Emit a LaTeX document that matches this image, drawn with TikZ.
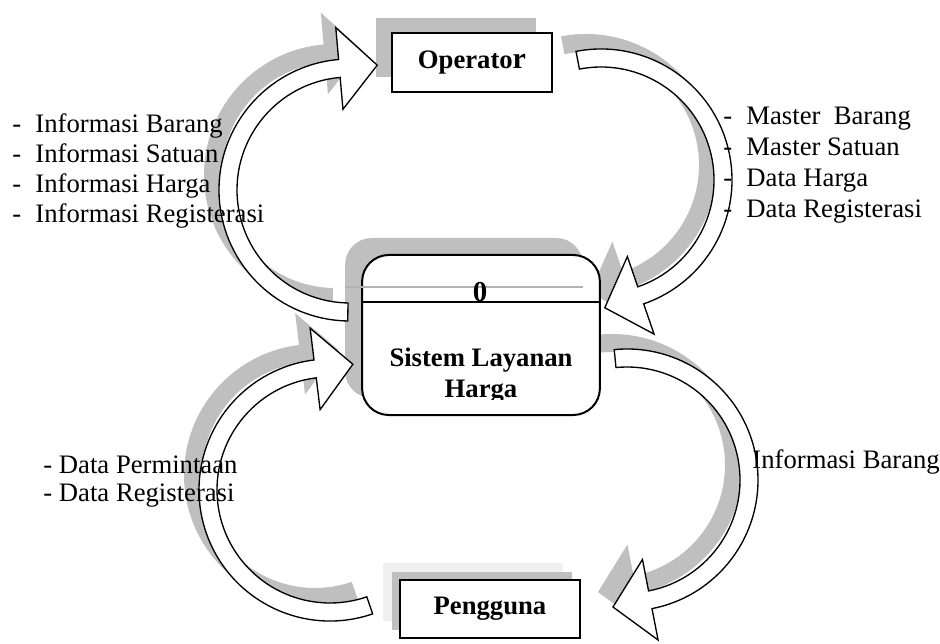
\documentclass[tikz,border=0pt]{standalone}
\usepackage{fontspec}
\setmainfont{Liberation Serif}
\usetikzlibrary{shadows}

% curved block arrow: #1,#2 centre, #3 start angle, #4 end angle, #5 style
\newcommand{\flowarc}[5]{%
    \pgfmathsetmacro{\ro}{\arcr+\arcw}
    \pgfmathsetmacro{\ri}{\arcr-\arcw}
    \draw[#5] ({#1+\ro*cos(#3)},{#2+\ro*sin(#3)})
        arc[start angle=#3, end angle=#4, radius=\ro]
        -- ({#1+(\arcr+\arch)*cos(#4)},{#2+(\arcr+\arch)*sin(#4)})
        -- ({#1+\arcr*cos(#4)+\arcl*sin(#4)},{#2+\arcr*sin(#4)-\arcl*cos(#4)})
        -- ({#1+(\arcr-\arch)*cos(#4)},{#2+(\arcr-\arch)*sin(#4)})
        -- ({#1+\ri*cos(#4)},{#2+\ri*sin(#4)})
        arc[start angle=#4, end angle=#3, radius=\ri]
        -- cycle;
}

\tikzset{
    boldtxt/.style={font=\bfseries\fontsize{12}{14}\selectfont},
    entity/.style={draw, line width=0.9pt, fill=white, inner sep=0pt,
        minimum width=#1, minimum height=26.5pt, boldtxt},
    process/.style={draw, line width=0.9pt, fill=white, rounded corners=12pt,
        minimum width=107pt, minimum height=72pt,
        general shadow={fill=gray!50, shadow xshift=-7.65pt, shadow yshift=7.65pt}},
    arcshadow/.style={fill=gray!50, draw=none, shift={(-15,15)}},
    arcbody/.style={fill=white, draw=black, line width=0.6pt, line join=miter},
    txt/.style={anchor=base west, inner sep=0pt, font=\fontsize{12}{14}\selectfont}
}

\begin{document}
\begin{tikzpicture}[x=0.45pt, y=0.45pt]

    \useasboundingbox (0,0) rectangle (940,643);

    \def\arcr{122}
    \def\arcw{9}
    \def\arch{41}
    \def\arcl{38}

    % shadows of the arrows
    \flowarc{350}{453}{269}{95}{arcshadow}
    \flowarc{601}{463}{101}{-71}{arcshadow}
    \flowarc{330}{153}{289}{97}{arcshadow}
    \flowarc{627}{163}{95.6}{-79}{arcshadow}

    % boxes
    \node[entity=72pt, general shadow={fill=gray!50, shadow xshift=-7.2pt, shadow yshift=6.75pt}]
        (operator) at (472,580.5) {Operato{\fontsize{13.5}{14}\selectfont r}};

    \node[process] (proses) at (481,308) {};
    \draw[gray!60, line width=0.5pt] (345,356) -- (583,356);
    \draw[line width=0.9pt] (362,341) -- (600,341);
    \node[anchor=base, inner sep=0pt, font=\bfseries\fontsize{13}{13}\selectfont] (nomor) at (480,341) {0};
    \node[anchor=base, inner sep=0pt, boldtxt] (nama) at (481,276) {Sistem Layanan};
    \begin{scope}
        \clip (362,244) rectangle (600,300);
        \node[anchor=base, inner sep=0pt, boldtxt] (nama2) at (481,246) {Harga};
    \end{scope}

    \node[entity=81pt,
        general shadow={fill=gray!12, shadow xshift=-7.65pt, shadow yshift=7.65pt},
        general shadow={fill=gray!50, shadow xshift=-3.6pt, shadow yshift=3.6pt}]
        (pengguna) at (490,34) {Pengguna};

    % arrows
    \flowarc{350}{453}{269}{95}{arcbody}
    \flowarc{601}{463}{101}{-71}{arcbody}
    \flowarc{330}{153}{289}{97}{arcbody}
    \flowarc{627}{163}{95.6}{-79}{arcbody}

    % flow labels
    \foreach \t [count=\i] in {Informasi Barang, Informasi Satuan, Informasi Harga, Informasi Registerasi} {
        \node[txt] (kiri\i) at (35,{540-30*\i}) {\t};
        \node[txt] (kirid\i) at (12,{540-30*\i}) {-};
    }

    \foreach \t [count=\i] in {Master\ \ Barang, Master Satuan, Data Harga, Data Registerasi} {
        \node[txt] (kanan\i) at (746,{549-31*\i}) {\t};
        \node[txt] (kanand\i) at (723,{549-31*\i}) {-};
    }

    \node[txt] (minta1) at (43,170) {- Data Permintaan};
    \node[txt] (minta2) at (43,142) {- Data Registerasi};

    \node[txt] (info) at (752,175) {Informasi Barang};

\end{tikzpicture}
\end{document}
